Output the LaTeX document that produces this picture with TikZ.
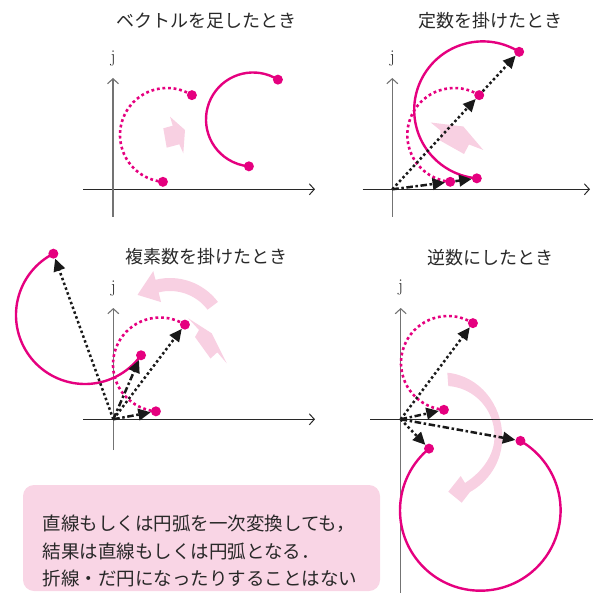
\documentclass[tikz,border=0pt]{standalone}
\usepackage{fontspec}
\newfontfamily\jp{Noto Sans CJK JP}
\usetikzlibrary{arrows.meta,calc}
\definecolor{mag}{RGB}{229,0,127}
\definecolor{lpink}{RGB}{248,208,226}
\definecolor{boxpink}{RGB}{249,213,229}
\definecolor{axgray}{RGB}{115,115,115}
\definecolor{axdark}{RGB}{40,40,40}
\definecolor{veck}{RGB}{25,25,25}
\definecolor{txt}{RGB}{40,40,40}
\begin{document}
\begin{tikzpicture}[x=1pt,y=-1pt,
  axisv/.style={draw=axgray, line width=1.1pt, -{Straight Barb[length=5pt,width=11pt]}},
  axish/.style={draw=axdark, line width=1pt, -{Straight Barb[length=5pt,width=11pt]}},
  axisplain/.style={draw=axdark, line width=1pt},
  dot/.style={circle, fill=mag, inner sep=0pt, minimum size=10pt},
  arcdot/.style={draw=mag, line width=2.6pt, dash pattern=on 2.8pt off 2.8pt},
  arcsolid/.style={draw=mag, line width=2.4pt},
  vecdot/.style={draw=veck, line width=2.5pt, dash pattern=on 2.5pt off 2.6pt, -{Triangle[length=12.5pt,width=11.5pt]}},
  vecdd/.style={draw=veck, line width=2.5pt, dash pattern=on 6.5pt off 2.6pt on 2.5pt off 2.6pt, -{Triangle[length=12.5pt,width=11.5pt]}},
  pinkshape/.style={fill=lpink, draw=none},
  titletext/.style={font=\jp\fontsize{18}{18}\selectfont, text=txt, inner sep=0pt},
  jlabel/.style={font=\fontsize{18}{18}\selectfont, text=txt, inner sep=0pt},
  boxtext/.style={font=\jp\fontsize{18.5}{27.5}\selectfont, text=txt, align=left, inner sep=0pt}
]
\useasboundingbox (0,0) rectangle (593,593);

% ---------- pink arrows (background) ----------
\fill[pinkshape] (170,116.7) -- (185,130) -- (183.3,153.3) -- (179.3,144.3) -- (166.7,147.7) -- (163.3,128.3) -- (172.7,125.7) -- cycle;
\fill[pinkshape] (430.7,122.5) -- (463.3,126.5) -- (483.3,150) -- (469,144.5) -- (464,154) -- (440,140.5) -- (440.5,130.5) -- cycle;
\coordinate (c3p) at (170,338);
\fill[pinkshape] ($(c3p)+(-37:60)$) arc[start angle=-37,end angle=-104,radius=60]
   -- ($(c3p)+(-104:69)$) -- ($(c3p)+(-127:54)$) -- ($(c3p)+(-104:37)$)
   -- ($(c3p)+(-104:47)$) arc[start angle=-104,end angle=-37,radius=47] -- cycle;
\fill[pinkshape] (188.3,318.3) -- (211.7,333.3) -- (226.7,363.3) -- (217.3,352.3) -- (210.5,358.5) -- (195,337) -- (199,330) -- cycle;
\fill[pinkshape] (447.3,372.7) .. controls (480,376) and (502,405) .. (502.3,436.7)
   .. controls (502.5,462) and (488,482) .. (470,492)
   -- (461.7,502.7) -- (448.3,491.7) -- (460.7,476) -- (465,483)
   .. controls (482,472) and (495,455) .. (494.5,435)
   .. controls (494,410) and (475,388) .. (448.3,386) -- cycle;

% ---------- note box ----------
\fill[boxpink, rounded corners=11pt] (23,485) rectangle (380,591);
\node[boxtext, anchor=west] (note) at (42.5,551) {直線もしくは円弧を一次変換しても，\\結果は直線もしくは円弧となる．\\折線・だ円になったりすることはない};

% ---------- titles ----------
\node[titletext] (t1) at (206,21) {ベクトルを足したとき};
\node[titletext] (t2) at (490,21) {定数を掛けたとき};
\node[titletext] (t3) at (206,257) {複素数を掛けたとき};
\node[titletext] (t4) at (490,258) {逆数にしたとき};

% ---------- axes ----------
\coordinate (o1) at (113,189.3);
\coordinate (h1a) at (83,189.3); \coordinate (h1b) at (315,189.3);
\coordinate (v1a) at (113,217); \coordinate (v1b) at (113,78);
\draw[axish] (h1a) -- (h1b);
\draw[axisv] (v1a) -- (v1b);
\node[jlabel] (j1) at (113,59) {j};

\coordinate (o2) at (392.3,189.3);
\coordinate (h2a) at (362.7,189.3); \coordinate (h2b) at (590,189.3);
\coordinate (v2a) at (392.3,217); \coordinate (v2b) at (392.3,78);
\draw[axish] (h2a) -- (h2b);
\draw[axisv] (v2a) -- (v2b);
\node[jlabel] (j2) at (392.3,59) {j};

\coordinate (o3) at (113.3,419.3);
\coordinate (h3a) at (83,419.3); \coordinate (h3b) at (315,419.3);
\coordinate (v3a) at (113.3,450); \coordinate (v3b) at (113.3,308);
\draw[axish] (h3a) -- (h3b);
\draw[axisv] (v3a) -- (v3b);
\node[jlabel] (j3) at (113.3,289) {j};

\coordinate (o4) at (400.7,419.3);
\coordinate (h4a) at (370,419.3); \coordinate (h4b) at (593,419.3);
\coordinate (v4a) at (400.7,593); \coordinate (v4b) at (400.7,308);
\draw[axisplain] (h4a) -- (h4b);
\draw[axisv] (v4a) -- (v4b);
\node[jlabel] (j4) at (400.7,288) {j};

% ---------- panel 1 ----------
\coordinate (c1d) at (167,135);
\coordinate (c1s) at (253,119.5);
\draw[arcdot] (c1d) ++(-58:47) arc[start angle=-58,end angle=-265,radius=47];
\draw[arcsolid] (c1s) ++(-58:47) arc[start angle=-58,end angle=-265,radius=47];
\node[dot] (a1) at ($(c1d)+(-58:47)$) {};
\node[dot] (b1) at ($(c1d)+(-265:47)$) {};
\node[dot] (a1p) at ($(c1s)+(-58:47)$) {};
\node[dot] (b1p) at ($(c1s)+(-265:47)$) {};

% ---------- panel 2 ----------
\coordinate (c2d) at (454.3,135);
\coordinate (c2s) at (482.8,110);
\draw[arcdot] (c2d) ++(-58:47) arc[start angle=-58,end angle=-265,radius=47];
\draw[arcsolid] (c2s) ++(-58:68.6) arc[start angle=-58,end angle=-265,radius=68.6];
\node[dot] (a2) at ($(c2d)+(-58:47)$) {};
\node[dot] (b2) at ($(c2d)+(-265:47)$) {};
\node[dot] (a2p) at ($(c2s)+(-58:68.6)$) {};
\node[dot] (b2p) at ($(c2s)+(-265:68.6)$) {};
\draw[vecdot] (o2) -- (a2);
\draw[vecdot] (a2) -- (a2p);
\draw[vecdd] (o2) -- (b2);
\draw[vecdd] (b2) -- (b2p);

% ---------- panel 3 ----------
\coordinate (c3d) at (160,364.5);
\coordinate (c3s) at (85,315);
\draw[arcdot] (c3d) ++(-58:47) arc[start angle=-58,end angle=-265,radius=47];
\draw[arcsolid] (c3s) ++(-117.3:69) arc[start angle=-117.3,end angle=-324.3,radius=69];
\node[dot] (a3) at ($(c3d)+(-58:47)$) {};
\node[dot] (b3) at ($(c3d)+(-265:47)$) {};
\node[dot] (a3p) at ($(c3s)+(-117.3:69)$) {};
\node[dot] (b3p) at ($(c3s)+(-324.3:69)$) {};
\draw[vecdot] (o3) -- (a3);
\draw[vecdot] (o3) -- (a3p);
\draw[vecdd] (o3) -- (b3);
\draw[vecdd] (o3) -- (b3p);

% ---------- panel 4 ----------
\coordinate (c4d) at (448,363);
\coordinate (c4s) at (480.3,510.4);
\draw[arcdot] (c4d) ++(-58:47) arc[start angle=-58,end angle=-265,radius=47];
\draw[arcsolid] (c4s) ++(-129.7:80.3) arc[start angle=-129.7,end angle=-420,radius=80.3];
\node[dot] (a4) at ($(c4d)+(-58:47)$) {};
\node[dot] (b4) at ($(c4d)+(-265:47)$) {};
\node[dot] (a4p) at ($(c4s)+(-129.7:80.3)$) {};
\node[dot] (b4p) at ($(c4s)+(-420:80.3)$) {};
\draw[vecdot] (o4) -- (a4);
\draw[vecdot] (o4) -- (a4p);
\draw[vecdd] (o4) -- (b4);
\draw[vecdd] (o4) -- (b4p);
\end{tikzpicture}
\end{document}
